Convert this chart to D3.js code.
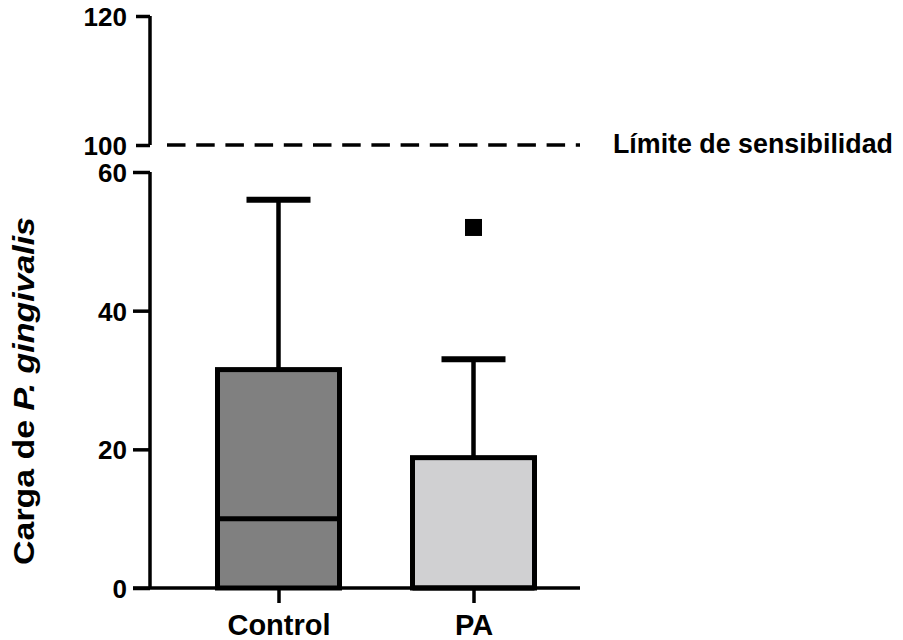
<!DOCTYPE html>
<html><head><meta charset="utf-8">
<script src="https://cdn.jsdelivr.net/npm/d3@7"></script>
<style>
body{margin:0;background:#fff;}
text{font-family:"Liberation Sans",Arial,sans-serif;font-weight:bold;fill:#000;}
</style></head>
<body><svg id="chart" width="903" height="640"></svg>
<script>
const categories = ["Control", "PA"];
const whiskerLow = [0, 0];
const q1 = [0, 0];
const median = [10, 0];
const q3 = [31.5, 18.8];
const whiskerHigh = [56, 33];
const outliers = [[], [52]];
const fills = ["#808080", "#d0d0d2"];
const lowerTicks = [0, 20, 40, 60];
const upperTicks = [100, 120];
const limitValue = 100;
const limitLabel = "Límite de sensibilidad";

const svg = d3.select("#chart");
const axisX = 150;
const yLow = d3.scaleLinear().domain([0, 60]).range([588, 172]);
const yHigh = d3.scaleLinear().domain([100, 120]).range([145, 16]);
const x = d3.scalePoint().domain(categories).range([278.5, 473.5]);
const boxW = 122, capW = 64;

// lower y axis
const gLow = svg.append("g").attr("transform", `translate(${axisX},0)`)
  .call(d3.axisLeft(yLow).tickValues(lowerTicks).tickSize(17).tickPadding(6).tickSizeOuter(0));
// upper y axis
const gHigh = svg.append("g").attr("transform", `translate(${axisX},0)`)
  .call(d3.axisLeft(yHigh).tickValues(upperTicks).tickSize(14).tickPadding(9).tickSizeOuter(0));
[gLow, gHigh].forEach(g => {
  g.select(".domain").attr("stroke", "#000").attr("stroke-width", 3.5);
  g.selectAll(".tick line").attr("stroke", "#000").attr("stroke-width", 3.5);
  g.selectAll(".tick text").style("font-size", "26px").attr("font-family", null).attr("dy", "0.36em");
});
gLow.select(".domain").attr("d", `M0,${yLow(0)}V${yLow(60)}`);
gHigh.select(".domain").attr("d", `M0,${yHigh(100)}V${yHigh(120)}`);

// x axis
const gx = svg.append("g").attr("transform", `translate(0,${yLow(0)})`)
  .call(d3.axisBottom(x).tickSize(15).tickPadding(11).tickSizeOuter(0));
gx.select(".domain").attr("d", "M133,0H580").attr("stroke", "#000").attr("stroke-width", 3.5);
gx.selectAll(".tick line").attr("stroke", "#000").attr("stroke-width", 3.5);
gx.selectAll(".tick text").style("font-size", "29px").attr("font-family", null);

// boxes
categories.forEach((c, i) => {
  const cx = x(c);
  const g = svg.append("g");
  g.append("line").attr("x1", cx).attr("x2", cx)
    .attr("y1", yLow(q3[i])).attr("y2", yLow(whiskerHigh[i]))
    .attr("stroke", "#000").attr("stroke-width", 4.5);
  g.append("line").attr("x1", cx - capW / 2).attr("x2", cx + capW / 2)
    .attr("y1", yLow(whiskerHigh[i])).attr("y2", yLow(whiskerHigh[i]))
    .attr("stroke", "#000").attr("stroke-width", 6);
  g.append("rect").attr("x", cx - boxW / 2).attr("width", boxW)
    .attr("y", yLow(q3[i])).attr("height", yLow(q1[i]) - yLow(q3[i]))
    .attr("fill", fills[i]).attr("stroke", "#000").attr("stroke-width", 5);
  g.append("line").attr("x1", cx - boxW / 2).attr("x2", cx + boxW / 2)
    .attr("y1", yLow(median[i])).attr("y2", yLow(median[i]))
    .attr("stroke", "#000").attr("stroke-width", 5);
  outliers[i].forEach(v => {
    g.append("rect").attr("x", cx - 8.5).attr("y", yLow(v) - 8.5)
      .attr("width", 17).attr("height", 17).attr("fill", "#000");
  });
});

// limit line
svg.append("line").attr("x1", 167).attr("x2", 580)
  .attr("y1", yHigh(limitValue)).attr("y2", yHigh(limitValue))
  .attr("stroke", "#000").attr("stroke-width", 3.5).attr("stroke-dasharray", "18.5,10.7");
svg.append("text").attr("x", 613).attr("y", yHigh(limitValue) + 8)
  .style("font-size", "26.8px").text(limitLabel);

// y label
const yl = svg.append("text")
  .attr("transform", "translate(34,391) rotate(-90) scale(1.13,1)")
  .attr("text-anchor", "middle").style("font-size", "30px");
yl.append("tspan").text("Carga de ");
yl.append("tspan").style("font-style", "italic").text("P. gingivalis");
</script></body></html>
